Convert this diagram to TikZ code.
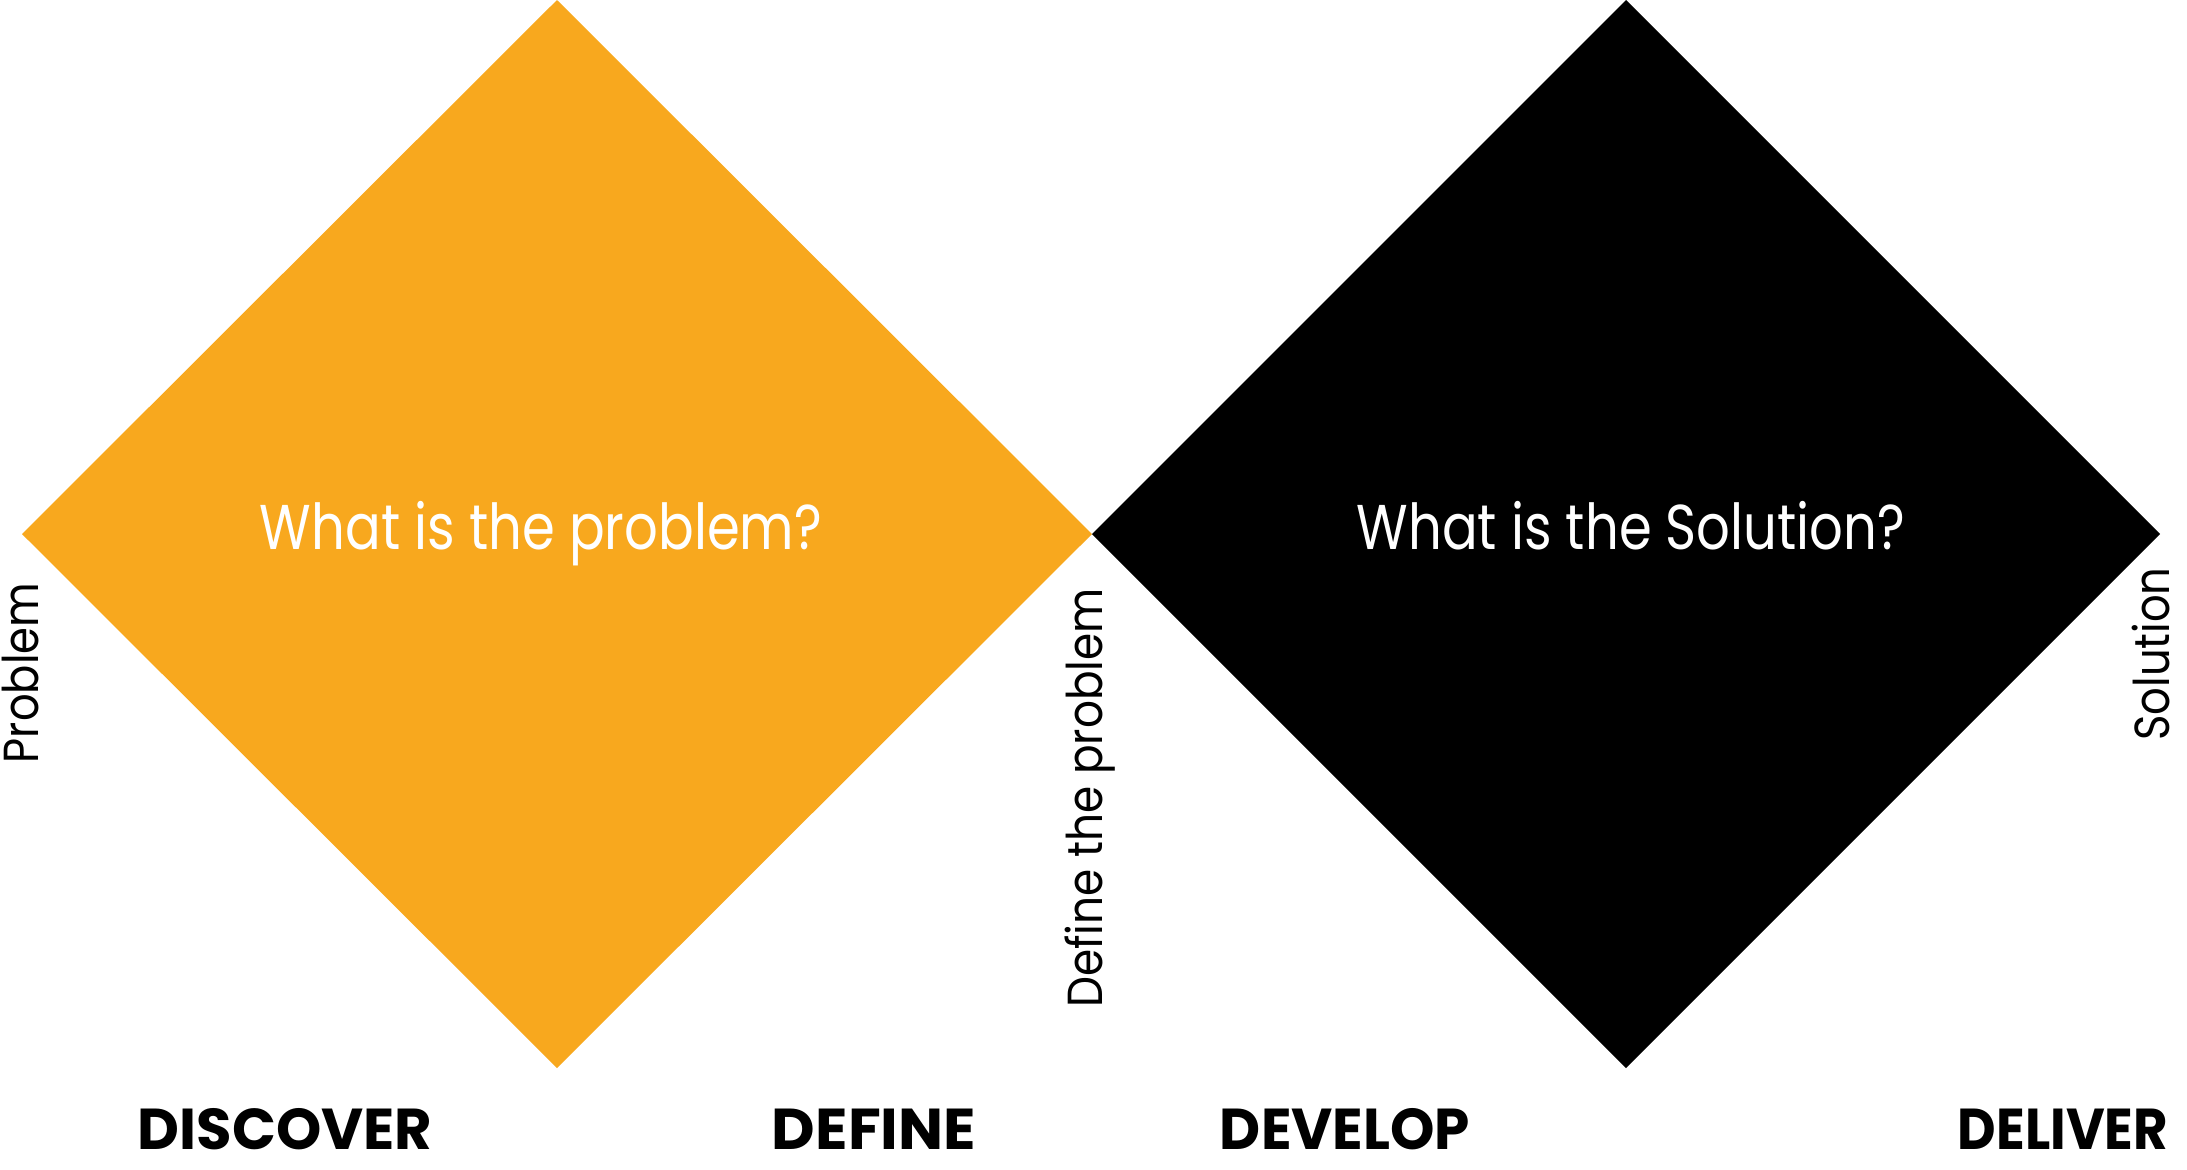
\documentclass[tikz,border=0pt]{standalone}
\usepackage{fontspec}
\usepackage{graphicx}
\setmainfont{Poppins}
\definecolor{dorange}{HTML}{F8A81E}
\newcommand{\narrow}[2]{\scalebox{#1}[1]{#2}}
\begin{document}
\begin{tikzpicture}[x=0.01cm,y=-0.01cm,
  question/.style={text=white,inner sep=0,anchor=base,font=\fontsize{18pt}{20pt}\selectfont},
  phase/.style={text=black,inner sep=0,anchor=base,font=\fontsize{16.4pt}{18pt}\selectfont\bfseries},
  side/.style={text=black,inner sep=0,anchor=base,rotate=90,font=\fontsize{14pt}{16pt}\selectfont}]
\path[use as bounding box,fill=white] (0,0) rectangle (2187,1169);
\fill[dorange] (22,534) -- (557,0) -- (1092,534) -- (557,1068) -- cycle;
\fill[black] (1092,534) -- (1626,0) -- (2160,534) -- (1626,1068) -- cycle;
\node[question] (q1) at (541,549) {\narrow{0.835}{What is the problem?}};
\node[question] (q2) at (1631,549) {\narrow{0.835}{What is the Solution?}};
\node[side] (s1) at (38,673) {\narrow{0.88}{Problem}};
\node[side] (s2) at (1102,798) {\narrow{0.89}{Define the problem}};
\node[side] (s3) at (2169,654) {\narrow{0.88}{Solution}};
\node[phase] (p1) at (285,1149) {DISCOVER};
\node[phase] (p2) at (874,1149) {\scalebox{1.04}[1]{DEFINE}};
\node[phase] (p3) at (1345,1149) {\scalebox{0.98}[1]{DEVELOP}};
\node[phase] (p4) at (2063,1149) {\scalebox{0.92}[1]{DELIVER}};
\end{tikzpicture}
\end{document}
